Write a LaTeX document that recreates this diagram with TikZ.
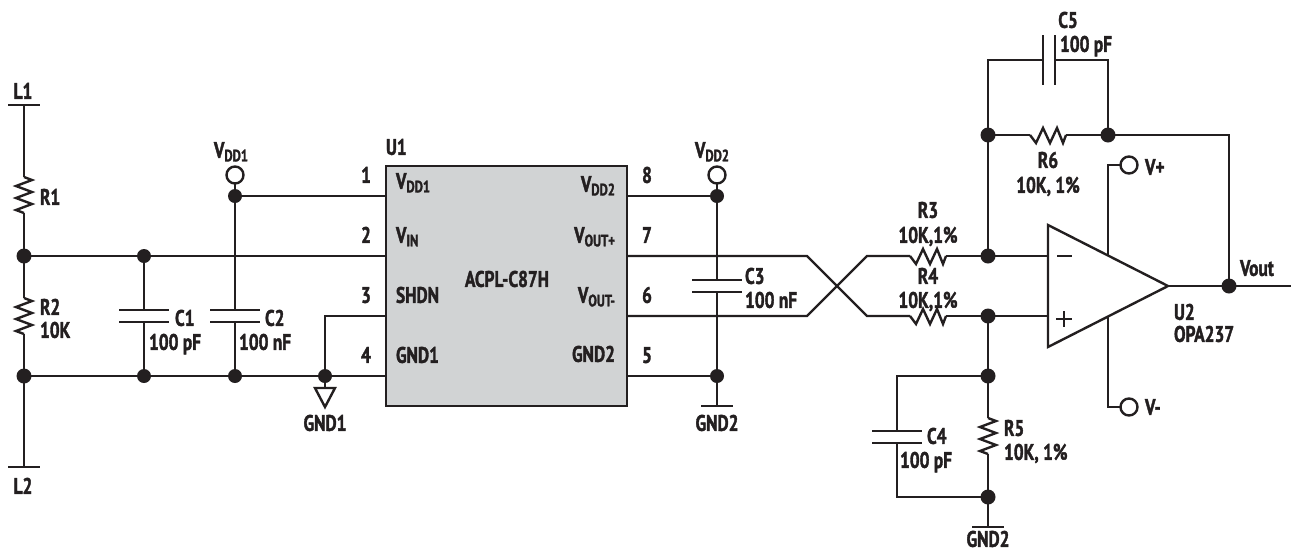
\documentclass[tikz,border=0pt]{standalone}
\usepackage{fontspec}
\setmainfont[FakeStretch=0.77,BoldFeatures={FakeBold=1.6}]{PT Sans}
\definecolor{ink}{HTML}{231F20}
\definecolor{chip}{HTML}{D1D3D4}
\newcommand{\subtxt}[1]{\raisebox{-3.5pt}{\fontsize{16.5}{16.5}\bfseries\selectfont #1}}
\tikzset{
  wire/.style={draw=ink,line width=2.4pt,line join=miter},
  lab/.style={inner sep=0pt,outer sep=0pt,text=ink,font=\fontsize{22.5}{24}\bfseries\selectfont,text height=15.7pt,text depth=0pt},
  labw/.style={lab,anchor=west},
  labe/.style={lab,anchor=east},
  dotj/.style={circle,fill=ink,draw=none,minimum size=15pt,inner sep=0pt,outer sep=0pt},
  term/.style={circle,draw=ink,line width=2.4pt,fill=white,minimum size=17pt,inner sep=0pt,outer sep=0pt},
  chipbox/.style={draw=ink,line width=2.6pt,fill=chip,inner sep=0pt,outer sep=0pt},
  resv/.pic={\draw[wire] (0,0) -- (8,3) -- (-8,9) -- (8,15) -- (-8,21) -- (8,27) -- (-8,33) -- (0,36);},
  resh/.pic={\draw[wire] (0,0) -- (6,8) -- (13,-7) -- (20,8) -- (27,-7) -- (33,8) -- (36,0);},
}
\begin{document}
\begin{tikzpicture}[x=1pt,y=-1pt]
\useasboundingbox (0,0) rectangle (1292,550);
% chip
\node[chipbox,minimum width=241pt,minimum height=240pt,anchor=north west] (u1) at (386,166) {};
% coordinates
\coordinate (l1) at (24,105); \coordinate (l1a) at (8,105); \coordinate (l1b) at (40,105);
\coordinate (l2) at (24,467); \coordinate (l2a) at (8,467); \coordinate (l2b) at (40,467);
\coordinate (p1) at (386,196); \coordinate (p2) at (386,256); \coordinate (p3) at (386,316); \coordinate (p4) at (386,376);
\coordinate (p8) at (627,196); \coordinate (p7) at (627,256); \coordinate (p6) at (627,316); \coordinate (p5) at (627,376);
\coordinate (r1t) at (24,177); \coordinate (r1b) at (24,213);
\coordinate (r2t) at (24,298); \coordinate (r2b) at (24,334);
\coordinate (c1t) at (144,310); \coordinate (c1b) at (144,322);
\coordinate (c2t) at (235,310); \coordinate (c2b) at (235,322);
\coordinate (c3t) at (717,280); \coordinate (c3b) at (717,292);
\coordinate (c4t) at (897,431); \coordinate (c4b) at (897,443);
\coordinate (c4a) at (897,376); \coordinate (c4d) at (897,497);
\coordinate (c5l) at (1043,60); \coordinate (c5r) at (1055,60);
\coordinate (c5a) at (988,60); \coordinate (c5d) at (1108,60);
\coordinate (xa) at (807,256); \coordinate (xb) at (867,316);
\coordinate (xc) at (807,316); \coordinate (xd) at (867,256);
\coordinate (r3l) at (910,256); \coordinate (r3r) at (946,256);
\coordinate (r4l) at (910,316); \coordinate (r4r) at (946,316);
\coordinate (r6l) at (1030,135); \coordinate (r6r) at (1066,135);
\coordinate (r5t) at (988,418); \coordinate (r5b) at (988,454);
\coordinate (oaT) at (1048,225); \coordinate (oaB) at (1048,347); \coordinate (oaO) at (1168,286);
\coordinate (oam) at (1048,256); \coordinate (oap) at (1048,316);
\coordinate (vpb) at (1108,255); \coordinate (vnb) at (1108,317);
\coordinate (vpc) at (1108,165); \coordinate (vnc) at (1108,407);
\coordinate (fbc) at (1229,135); \coordinate (outend) at (1291,286);
\coordinate (g1a) at (325,316); \coordinate (g1top) at (325,388);
\coordinate (g2a) at (701,406); \coordinate (g2c) at (717,406); \coordinate (g2b) at (733,406);
\coordinate (g3a) at (972,527); \coordinate (g3c) at (988,527); \coordinate (g3b) at (1004,527);
% wires
\draw[wire] (l1a) -- (l1b);
\draw[wire] (l2a) -- (l2b);
\draw[wire] (l1) -- (r1t);
\draw[wire] (r1b) -- (r2t);
\draw[wire] (r2b) -- (l2);
\pic at (r1t) {resv};
\pic at (r2t) {resv};
\draw[wire] (24,256) -- (p2);
\draw[wire] (24,376) -- (p4);
\draw[wire] (235,196) -- (p1);
\draw[wire] (235,175) -- (c2t);
\draw[wire] (c2b) -- (235,376);
\draw[wire] (144,256) -- (c1t);
\draw[wire] (c1b) -- (144,376);
\draw[wire] (119,310) -- (169,310); \draw[wire] (119,322) -- (169,322);
\draw[wire] (210,310) -- (260,310); \draw[wire] (210,322) -- (260,322);
\draw[wire] (p3) -- (g1a) -- (g1top);
\draw[wire,fill=white] (315,388) -- (335,388) -- (325,407) -- cycle;
\draw[wire] (p8) -- (717,196);
\draw[wire] (p5) -- (717,376);
\draw[wire] (717,175) -- (c3t);
\draw[wire] (c3b) -- (g2c);
\draw[wire] (692,280) -- (742,280); \draw[wire] (692,292) -- (742,292);
\draw[wire] (g2a) -- (g2b);
\draw[wire] (p7) -- (xa) -- (xb) -- (r4l);
\draw[wire] (p6) -- (xc) -- (xd) -- (r3l);
\pic at (r3l) {resh};
\pic at (r4l) {resh};
\draw[wire] (r3r) -- (oam);
\draw[wire] (r4r) -- (oap);
\draw[wire] (988,256) -- (c5a) -- (c5l);
\draw[wire] (c5r) -- (c5d) -- (1108,135);
\draw[wire] (1043,35) -- (1043,85); \draw[wire] (1055,35) -- (1055,85);
\draw[wire] (988,135) -- (r6l);
\pic at (r6l) {resh};
\draw[wire] (r6r) -- (fbc) -- (1229,286);
\draw[wire] (oaO) -- (outend);
\draw[wire,line join=miter] (oaT) -- (oaO) -- (oaB) -- cycle;
\draw[wire] (1057,256) -- (1072,256);
\draw[wire] (1056,319) -- (1072,319); \draw[wire] (1064,311) -- (1064,327);
\draw[wire] (vpb) -- (vpc) -- (1129,165);
\draw[wire] (vnb) -- (vnc) -- (1129,407);
\draw[wire] (988,316) -- (r5t);
\draw[wire] (r5b) -- (g3c);
\pic at (r5t) {resv};
\draw[wire] (g3a) -- (g3b);
\draw[wire] (988,376) -- (c4a) -- (c4t);
\draw[wire] (c4b) -- (c4d) -- (988,497);
\draw[wire] (872,431) -- (922,431); \draw[wire] (872,443) -- (922,443);
% junctions
\node[dotj] (j1) at (24,256) {};
\node[dotj] (j2) at (24,376) {};
\node[dotj,minimum size=14pt] (j3) at (144,256) {};
\node[dotj,minimum size=14pt] (j4) at (144,376) {};
\node[dotj,minimum size=14pt] (j5) at (235,196) {};
\node[dotj,minimum size=14pt] (j6) at (235,376) {};
\node[dotj,minimum size=14pt] (j7) at (325,376) {};
\node[dotj,minimum size=14pt] (j8) at (717,196) {};
\node[dotj,minimum size=14pt] (j9) at (717,376) {};
\node[dotj] (j10) at (988,135) {};
\node[dotj] (j11) at (1108,135) {};
\node[dotj] (j12) at (988,256) {};
\node[dotj] (j13) at (988,316) {};
\node[dotj] (j14) at (988,376) {};
\node[dotj] (j15) at (988,497) {};
\node[dotj] (j16) at (1229,286) {};
% terminals
\node[term] (t1) at (235,175) {};
\node[term] (t2) at (717,175) {};
\node[term] (t3) at (1129,165) {};
\node[term] (t4) at (1129,407) {};
% labels
\node[lab] (tl1) at (23,91) {L1};
\node[lab] (tl2) at (23,486) {L2};
\node[labw] (tr1) at (40,197) {R1};
\node[labw] (tr2) at (40,307) {R2};
\node[labw] (tr2v) at (40,330) {10K};
\node[labw] (tc1) at (175,318) {C1};
\node[labw] (tc1v) at (149,342) {100 pF};
\node[labw] (tc2) at (265,318) {C2};
\node[labw] (tc2v) at (239,342) {100 nF};
\node[lab] (tvd1) at (231,150) {V\subtxt{DD1}};
\node[labw] (tu1) at (386,147) {U1};
\node[lab] (n1) at (366,175) {1};
\node[lab] (n2) at (366,235) {2};
\node[lab] (n3) at (366,295) {3};
\node[lab] (n4) at (366,355) {4};
\node[lab] (n8) at (647,175) {8};
\node[lab] (n7) at (647,235) {7};
\node[lab] (n6) at (647,295) {6};
\node[lab] (n5) at (647,355) {5};
\node[labw] (iv) at (396,181) {V\subtxt{DD1}};
\node[labw] (ii) at (396,235) {V\subtxt{IN}};
\node[labw] (is) at (396,295) {SHDN};
\node[labw] (ig) at (396,355) {GND1};
\node[lab] (ia) at (507,279) {ACPL-C87H};
\node[labe] (ov) at (615,184) {V\subtxt{DD2}};
\node[labe] (op) at (615,235) {V\subtxt{OUT+}};
\node[labe] (om) at (615,295) {V\subtxt{OUT-}};
\node[labe] (og) at (615,354) {GND2};
\node[lab] (tvd2) at (712,150) {V\subtxt{DD2}};
\node[lab] (tg1) at (325,423) {GND1};
\node[lab] (tg2) at (717,423) {GND2};
\node[labw] (tc3) at (745,276) {C3};
\node[labw] (tc3v) at (745,300) {100 nF};
\node[lab] (tr3) at (928,210) {R3};
\node[lab] (tr3v) at (928,235) {10K,1\%};
\node[lab] (tr4) at (928,276) {R4};
\node[lab] (tr4v) at (928,300) {10K,1\%};
\node[lab] (tr6) at (1048,160) {R6};
\node[lab] (tr6v) at (1048,185) {10K, 1\%};
\node[lab] (tc5) at (1068,20) {C5};
\node[labw] (tc5v) at (1060,44) {100 pF};
\node[labw] (tvp) at (1145,167) {V+};
\node[labw] (tvm) at (1145,407) {V-};
\node[labw] (tvo) at (1240,268) {Vout};
\node[labw] (tu2) at (1174,312) {U2};
\node[labw] (tu2v) at (1174,334) {OPA237};
\node[labw] (tc4) at (927,436) {C4};
\node[labw] (tc4v) at (900,460) {100 pF};
\node[labw] (tr5) at (1004,428) {R5};
\node[labw] (tr5v) at (1004,452) {10K, 1\%};
\node[lab] (tg3) at (988,539) {GND2};
\end{tikzpicture}
\end{document}
